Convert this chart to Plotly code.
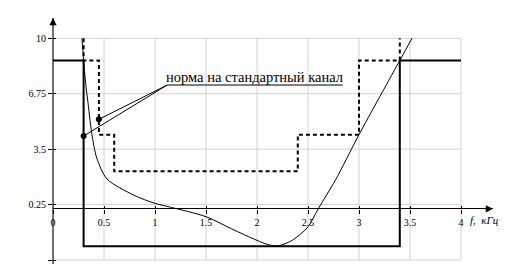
import plotly.graph_objects as go

# ---------------- data ----------------
curve_f = [0.284, 0.30, 0.327, 0.34, 0.38, 0.43, 0.53, 0.79, 1.0, 1.15, 1.5, 1.75,
           2.0, 2.1, 2.2, 2.35, 2.5, 2.6, 2.77, 3.0, 3.4, 3.52]
curve_a = [10.0, 8.7, 6.97, 6.38, 4.43, 2.96, 1.75, 0.81, 0.32, 0.1, -0.46, -1.17,
           -1.85, -2.08, -2.18, -1.83, -1.05, 0.0, 1.7, 4.35, 8.7, 10.0]

mask_f = [0, 0.3, 0.3, 3.4, 3.4, 4.0]
mask_a = [8.7, 8.7, -2.2, -2.2, 8.7, 8.7]

norm_f = [0.3, 0.3, 0.45, 0.45, 0.6, 0.6, 2.4, 2.4, 3.0, 3.0, 3.4, 3.4]
norm_a = [10, 8.7, 8.7, 4.35, 4.35, 2.2, 2.2, 4.35, 4.35, 8.7, 8.7, 10]

x_ticks = [0, 0.5, 1, 1.5, 2, 2.5, 3, 3.5, 4]
x_ticktext = ['0', '0.5', '1', '1.5', '2', '2.5', '3', '3.5', '4']
y_ticks = [-3, 0.25, 3.5, 6.75, 10]
y_ticktext = ['−3', '0.25', '3.5', '6.75', '10']

callout_f = [0.3, 0.45]
callout_a = [4.27, 5.25]
label_f = [1.12, 2.84]
label_a = 7.26
label_text = 'норма на стандартный канал'

# ---------------- geometry ----------------
W, H = 508, 264
L, R, T, B = 53, 15, 18, 0
px_x = 102.0
xmax = (W - L - R) / px_x
px_y = 17.054
ymax = 10 + 20.3 / px_y
ymin = ymax - (H - T - B) / px_y
xpos = (0 - ymin) / (ymax - ymin)

SERIF = 'Liberation Serif'

fig = go.Figure()

# grid as shapes
shapes = []
for xv in x_ticks[1:]:
    shapes.append(dict(type='line', xref='x', yref='y', x0=xv, x1=xv, y0=y_ticks[0], y1=y_ticks[-1],
                       line=dict(color='#d2d2d2', width=1), layer='below'))
for yv in y_ticks:
    shapes.append(dict(type='line', xref='x', yref='y', x0=x_ticks[0], x1=x_ticks[-1], y0=yv, y1=yv,
                       line=dict(color='#d2d2d2', width=1), layer='below'))

fig.add_trace(go.Scatter(x=mask_f, y=mask_a, mode='lines',
                         line=dict(color='black', width=2), hoverinfo='skip'))
fig.add_trace(go.Scatter(x=norm_f, y=norm_a, mode='lines',
                         line=dict(color='black', width=2, dash='4px,3px'), hoverinfo='skip'))
fig.add_trace(go.Scatter(x=curve_f, y=curve_a, mode='lines',
                         line=dict(color='black', width=1, shape='spline', smoothing=0.8),
                         hoverinfo='skip'))
# callout leaders
fig.add_trace(go.Scatter(x=[callout_f[0], label_f[0], label_f[1]], y=[callout_a[0], label_a, label_a],
                         mode='lines', line=dict(color='black', width=1), hoverinfo='skip'))
fig.add_trace(go.Scatter(x=[callout_f[1], label_f[0]], y=[callout_a[1], label_a],
                         mode='lines', line=dict(color='black', width=1), hoverinfo='skip'))
fig.add_trace(go.Scatter(x=callout_f, y=callout_a, mode='markers',
                         marker=dict(color='black', size=6), hoverinfo='skip'))
# empty trace on overlay axes (draws the inner half of the crossing ticks)
fig.add_trace(go.Scatter(x=[None], y=[None], xaxis='x2', yaxis='y2', mode='lines',
                         hoverinfo='skip'))

annotations = [
    dict(x=0, y=ymax, xref='x', yref='y', ax=0, ay=9, axref='pixel', ayref='pixel',
         showarrow=True, arrowhead=2, arrowsize=1.2, arrowwidth=1.2, arrowcolor='black', text=''),
    dict(x=xmax, y=0, xref='x', yref='y', ax=-9, ay=0, axref='pixel', ayref='pixel',
         showarrow=True, arrowhead=2, arrowsize=1.2, arrowwidth=1.2, arrowcolor='black', text=''),
    dict(x=(label_f[0] + label_f[1]) / 2, y=label_a, xref='x', yref='y', showarrow=False,
         text=label_text, yanchor='bottom', xanchor='center', yshift=-2,
         font=dict(family=SERIF, size=14.5, color='black')),
    dict(x=(6 - L) / px_x, y=10 + (38.3 - 15) / px_y, xref='x', yref='y', showarrow=False,
         text='<i>a</i><sub><i>r</i></sub><i>,  дБ</i>', xanchor='left', yanchor='middle',
         font=dict(family=SERIF, size=13, color='black')),
    dict(x=(468 - L) / px_x, y=10 - (220 - 38.3) / px_y, xref='x', yref='y', showarrow=False,
         text='<i>f</i><i>,  кГц</i>', xanchor='left', yanchor='middle',
         font=dict(family=SERIF, size=11, color='black')),
]

tickcommon = dict(tickcolor='black', tickwidth=1, fixedrange=True, showgrid=False, showline=False)

fig.update_layout(
    width=W, height=H, margin=dict(l=L, r=R, t=T, b=B, pad=0),
    paper_bgcolor='white', plot_bgcolor='white', showlegend=False,
    shapes=shapes, annotations=annotations,
    font=dict(family=SERIF),
    xaxis=dict(range=[0, xmax], tickvals=x_ticks, ticktext=x_ticktext,
               anchor='free', position=xpos,
               zeroline=True, zerolinecolor='#707070', zerolinewidth=2,
               ticks='outside', ticklen=4,
               tickfont=dict(family=SERIF, size=10, color='black'), **tickcommon),
    yaxis=dict(range=[ymin, ymax], tickvals=y_ticks, ticktext=y_ticktext,
               zeroline=True, zerolinecolor='black', zerolinewidth=1,
               ticks='outside', ticklen=4,
               tickfont=dict(family=SERIF, size=10, color='black'), **tickcommon),
    xaxis2=dict(range=[0, xmax], tickvals=x_ticks, overlaying='x', anchor='free', position=xpos,
                ticks='inside', ticklen=3, showticklabels=False, zeroline=False, **tickcommon),
    yaxis2=dict(range=[ymin, ymax], tickvals=y_ticks, overlaying='y', anchor='x2',
                ticks='inside', ticklen=3, showticklabels=False, zeroline=False, **tickcommon),
)

fig.write_html('out.html', config={'displayModeBar': False},
               post_script="document.body.style.margin='0';document.body.style.overflow='hidden';")
